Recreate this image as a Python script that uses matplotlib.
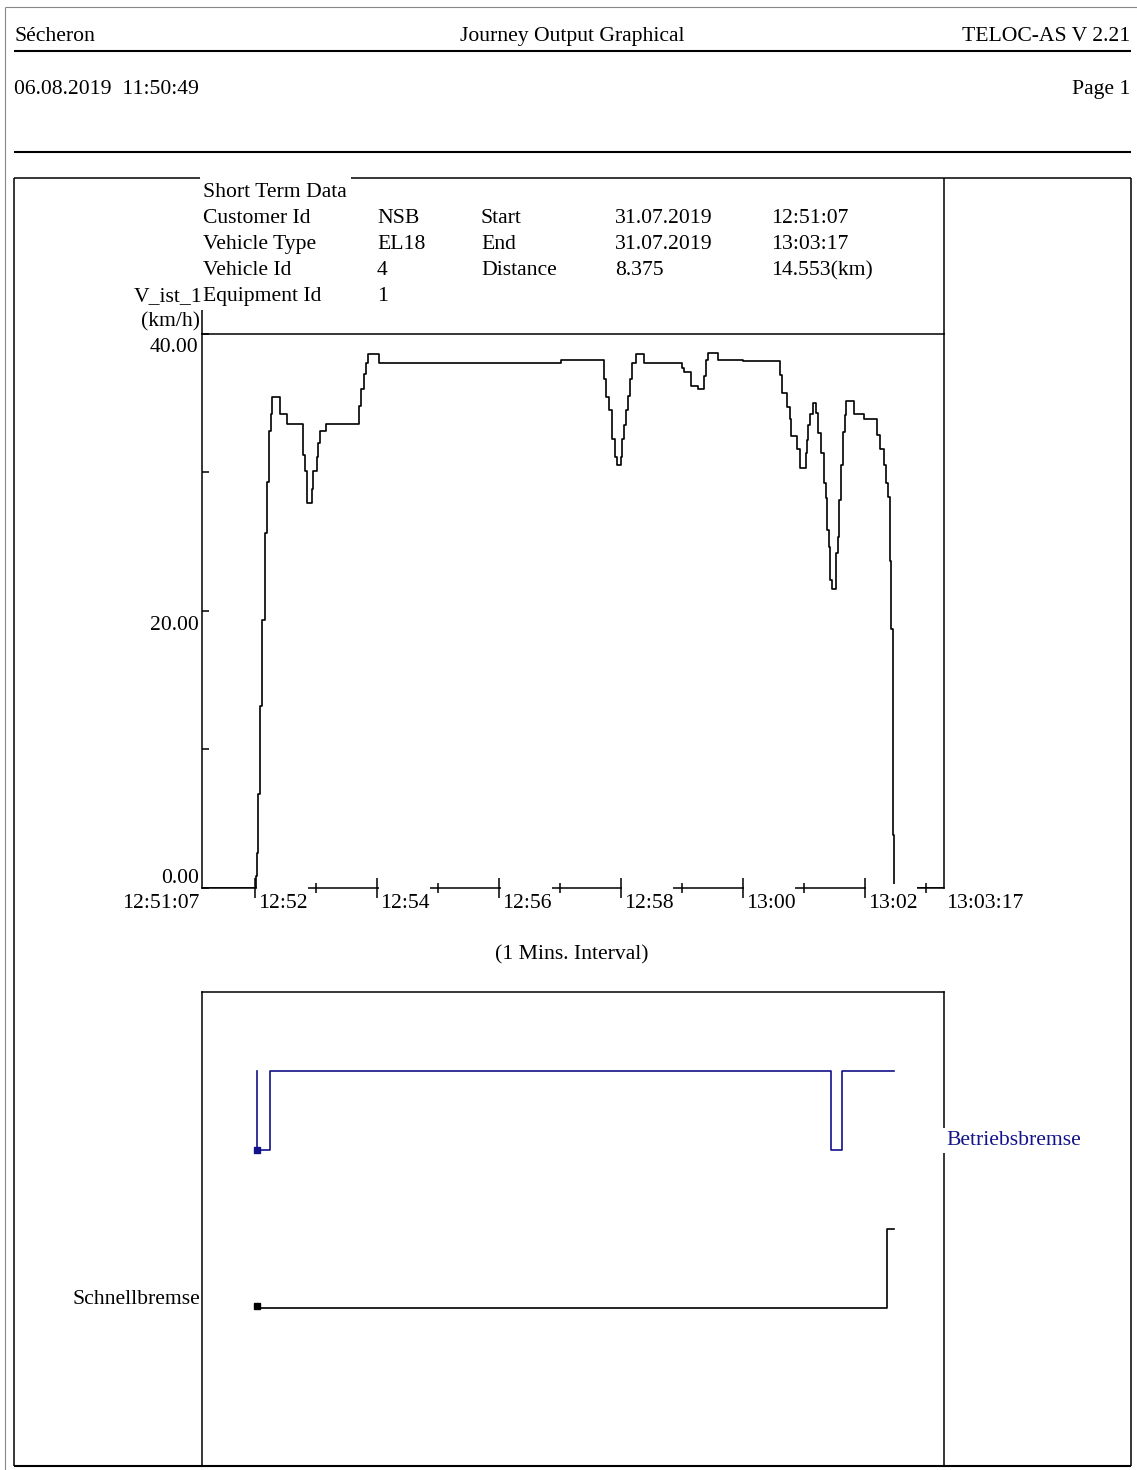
import numpy as np
import matplotlib
matplotlib.use('Agg')
import matplotlib.pyplot as plt
from matplotlib.patches import Rectangle

# Seitengroesse in Pixel (dpi=100)
W, H = 1137, 1470
FS = 15.6
NAVY = '#12128a'

plt.rcParams['font.family'] = ['Liberation Serif', 'DejaVu Serif']
plt.rcParams['font.size'] = FS

# V_ist_1 (km/h), Zeit in Sekunden ab 12:51:07 (Stufenwerte)
speed_t = [0, 54, 55, 56, 58, 60, 62, 64, 66, 68, 69, 77, 84, 100, 102, 104, 109, 110,
           114, 115, 117, 122, 155, 157, 160, 162, 164, 175, 354, 396, 398, 401, 404,
           407, 409, 413, 414, 416, 418, 420, 422, 424, 427, 435, 473, 475, 482, 488,
           494, 496, 498, 508, 533, 569, 571, 576, 579, 580, 586, 589, 595, 596, 597,
           599, 602, 605, 607, 609, 612, 614, 615, 617, 618, 620, 624, 626, 627, 629,
           631, 633, 634, 642, 652, 665, 668, 671, 673, 675, 677, 678, 680, 681, 730]
speed_v = [0.0, 0.9, 2.5, 6.8, 13.1, 19.3, 25.6, 29.3, 33.0, 34.2, 35.4, 34.2, 33.5, 31.2,
           30.1, 27.8, 28.8, 30.1, 31.1, 32.1, 33.0, 33.5, 34.8, 36.0, 37.1, 37.9, 38.5,
           37.9, 38.1, 36.7, 35.4, 34.5, 32.4, 31.1, 30.5, 31.1, 32.4, 33.4, 34.5, 35.5,
           36.7, 37.9, 38.5, 37.9, 37.5, 37.2, 36.2, 36.0, 36.9, 38.1, 38.6, 38.1, 38.0,
           37.0, 35.7, 34.7, 33.8, 32.6, 31.7, 30.3, 31.4, 32.3, 33.4, 34.2, 35.0, 34.3,
           32.8, 31.4, 29.2, 28.1, 25.8, 24.6, 22.2, 21.6, 24.2, 25.3, 28.0, 30.5, 32.9,
           34.1, 35.1, 34.2, 33.8, 32.7, 31.7, 30.5, 29.2, 28.2, 23.6, 18.7, 3.8, 0.0, 0.0]

# Bremssignale (0/1)
bb_t = [55, 55, 67, 619, 630, 681]   # Betriebsbremse
bb_v = [1, 0, 1, 0, 1, 1]
sb_t = [55, 674, 681]                # Schnellbremse
sb_v = [0, 1, 1]

major_t = [53, 173, 293, 413, 533, 653]
major_lbl = ['12:52', '12:54', '12:56', '12:58', '13:00', '13:02']
minor_t = [113, 233, 353, 473, 593, 713]
ytick_v = [0, 10, 20, 30, 40]
ylbl_v = [40, 20, 0]
ylbl_txt = ['40.00', '20.00', '0.00']

info_lbl = ['Customer Id', 'Vehicle Type', 'Vehicle Id', 'Equipment Id']
info_val = ['NSB', 'EL18', '4', '1']
info_lbl2 = ['Start', 'End', 'Distance']
info_val2 = ['31.07.2019', '31.07.2019', '8.375']
info_val3 = ['12:51:07', '13:03:17', '14.553(km)']

fig = plt.figure(figsize=(W / 100, H / 100), dpi=100, facecolor='white')

# --- Geschwindigkeit ---
ax_w, ax_h = 742, 888 - 333.5
ax = fig.add_axes([201.5 / W, 1 - 888 / H, ax_w / W, ax_h / H], zorder=1)
ax.set_facecolor('none')
ax.step(speed_t, speed_v, where='post', color='black', lw=1.2)
ax.set_xlim(0, 730)
ax.set_ylim(0, 40)
for sp in ax.spines.values():
    sp.set_linewidth(1.1)
ax.set_xticks(major_t)
ax.set_xticks(minor_t, minor=True)
ax.set_yticks(ytick_v)
ax.tick_params(axis='x', which='major', direction='inout', length=14.4, width=1.1, labelbottom=False)
ax.tick_params(axis='x', which='minor', direction='inout', length=7.2, width=1.1)
ax.tick_params(axis='y', direction='in', length=5, width=1.1, labelleft=False)
ax.xaxis.set_zorder(5)  # Striche ueber den Luecken

px_per_s = ax_w / 730.0
for t, s in zip(major_t, major_lbl):
    # Luecke in der Achsenlinie rechts vom Strich, wo das Label steht
    ax.add_patch(Rectangle((t + 1.2 / px_per_s, -4 / ax_h), 51 / px_per_s, 8 / ax_h,
                           transform=ax.get_xaxis_transform(), fc='white', ec='none',
                           zorder=3, clip_on=False))
    ax.annotate(s, xy=(t, 0), xytext=(3, -20), textcoords='offset pixels',
                ha='left', va='baseline', annotation_clip=False, zorder=4)
ax.annotate('12:51:07', xy=(0, 0), xytext=(-2, -20), textcoords='offset pixels',
            ha='right', va='baseline', annotation_clip=False)
ax.annotate('13:03:17', xy=(730, 0), xytext=(3, -20), textcoords='offset pixels',
            ha='left', va='baseline', annotation_clip=False)
for v, s in zip(ylbl_v, ylbl_txt):
    off = -19 if v > 0 else 5
    ax.annotate(s, xy=(0, v), xytext=(-3, off), textcoords='offset pixels',
                ha='right', va='baseline', annotation_clip=False)

# --- Bremsen ---
ax2 = fig.add_axes([201.5 / W, 1 - 1466 / H, 742 / W, (1466 - 992) / H], zorder=1)
ax2.set_facecolor('none')
ax2.step(bb_t, np.array(bb_v) + 2, where='post', color=NAVY, lw=1.2)
ax2.plot(bb_t[0], bb_v[1] + 2, 's', ms=4.8, color=NAVY)
ax2.step(sb_t, sb_v, where='post', color='black', lw=1.2)
ax2.plot(sb_t[0], sb_v[0] + 0.03, 's', ms=4.2, color='black')
ax2.set_xlim(0, 730)
ax2.set_ylim(-2, 4)
ax2.set_xticks([])
ax2.set_yticks([])
for sp in ax2.spines.values():
    sp.set_linewidth(1.1)

# --- Seite: Linien und Texte in Pixelkoordinaten ---
page = fig.add_axes([0, 0, 1, 1], zorder=3)
page.set_xlim(0, W)
page.set_ylim(H, 0)
page.axis('off')
page.set_facecolor('none')

def seg(x0, y0, x1, y1, lw=1.1, color='black'):
    page.plot([x0, x1], [y0, y1], color=color, lw=lw, solid_capstyle='butt')

seg(5, 7, W, 7, lw=0.8, color='#888888')
seg(5, 7, 5, H, lw=0.8, color='#888888')
seg(14, 51, 1131, 51, lw=1.5)
seg(14, 152, 1131, 152, lw=1.5)
seg(14, 178, 200, 178)
seg(351, 178, 1131, 178)
seg(14, 178, 14, 1466)
seg(1131, 178, 1131, 1466)
seg(14, 1466, 1131, 1466, lw=1.5)
seg(943.5, 178, 943.5, 334)
seg(201.5, 310, 201.5, 334)

def txt(x, y, s, ha='left', **kw):
    page.text(x, y, s, ha=ha, va='baseline', fontsize=FS, **kw)

txt(14, 41, 'Sécheron')
txt(572, 41, 'Journey Output Graphical', ha='center')
txt(1130, 41, 'TELOC-AS V 2.21', ha='right')
txt(14, 94, '06.08.2019  11:50:49')
txt(1130, 94, 'Page 1', ha='right')

txt(203, 197, 'Short Term Data')
for i in range(len(info_lbl)):
    yb = 223 + 26 * i
    txt(203, yb, info_lbl[i])
    txt(377, yb, info_val[i])
    if i < len(info_lbl2):
        txt(481, yb, info_lbl2[i])
        txt(615, yb, info_val2[i])
        txt(771, yb, info_val3[i])
txt(202, 301, 'V_ist_1', ha='right')
txt(200, 326, '(km/h)', ha='right')

txt(572, 959, '(1 Mins. Interval)', ha='center')
txt(946, 1145, 'Betriebsbremse', color=NAVY,
    bbox=dict(boxstyle='square,pad=0.15', fc='white', ec='none'))
txt(200, 1304, 'Schnellbremse', ha='right')

fig.savefig('out.png', dpi=100)
